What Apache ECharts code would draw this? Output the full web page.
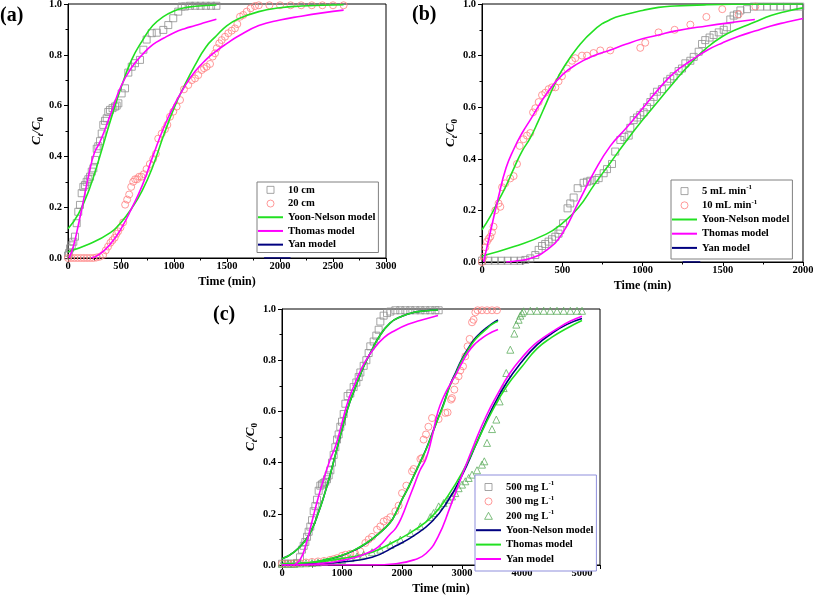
<!DOCTYPE html>
<html><head><meta charset="utf-8">
<script src="https://cdn.jsdelivr.net/npm/echarts@6/dist/echarts.min.js"></script>
<style>html,body{margin:0;padding:0;background:#fff}#c{width:813px;height:598px}</style>
</head><body><div id="c"></div><script>
// ---------- Panel (a) ----------
const a10cm = [[0,0.01],[10,0.02],[19,0.038],[35,0.05],[50,0.064],[66,0.084],[82,0.137],[97,0.182],[113,0.209],[129,0.255],[145,0.28],[160,0.287],[176,0.30],[192,0.31],[208,0.32],[224,0.34],[239,0.353],[255,0.386],[271,0.43],[286,0.44],[302,0.46],[318,0.49],[333,0.524],[349,0.54],[365,0.55],[380,0.575],[396,0.583],[420,0.59],[443,0.596],[459,0.60],[475,0.609],[506,0.648],[538,0.668],[569,0.73],[601,0.753],[632,0.767],[679,0.78],[711,0.82],[742,0.86],[790,0.885],[837,0.887],[899,0.898],[946,0.917],[993,0.944],[1040,0.97],[1072,0.99],[1103,0.99],[1150,0.993],[1200,0.993],[1250,0.993],[1300,0.993],[1350,0.993],[1400,0.993]];
const a20cm = [[0,0],[30,0],[60,0],[90,0],[120,0],[150,0],[180,0],[210,0],[240,0],[268,0.002],[299,0.005],[331,0.012],[356,0.03],[378,0.045],[400,0.06],[420,0.07],[441,0.08],[457,0.095],[473,0.105],[495,0.12],[520,0.14],[539,0.21],[558,0.23],[577,0.25],[596,0.28],[615,0.30],[633,0.31],[652,0.31],[671,0.32],[693,0.32],[715,0.33],[741,0.35],[772,0.37],[804,0.39],[829,0.41],[851,0.47],[884,0.49],[915,0.507],[937,0.524],[962,0.556],[993,0.576],[1025,0.596],[1057,0.622],[1094,0.664],[1135,0.681],[1167,0.70],[1198,0.707],[1229,0.72],[1261,0.74],[1283,0.747],[1308,0.753],[1340,0.764],[1365,0.793],[1387,0.806],[1403,0.826],[1427,0.845],[1450,0.858],[1481,0.871],[1512,0.885],[1544,0.895],[1575,0.904],[1597,0.921],[1623,0.95],[1654,0.957],[1686,0.97],[1723,0.983],[1764,0.992],[1800,0.995],[1900,0.995],[2000,0.995],[2100,0.995],[2200,0.995],[2300,0.995],[2400,0.995],[2500,0.995],[2600,0.995]];
const aYN10 = [[0,0.115],[100,0.175],[200,0.27],[300,0.40],[400,0.54],[500,0.67],[600,0.78],[700,0.855],[800,0.915],[900,0.95],[1000,0.972],[1100,0.985],[1200,0.991],[1300,0.994],[1400,0.996]];
const aYN20 = [[0,0.025],[200,0.055],[400,0.10],[500,0.14],[600,0.195],[700,0.265],[800,0.36],[900,0.48],[1000,0.59],[1100,0.68],[1200,0.76],[1300,0.83],[1400,0.875],[1500,0.915],[1600,0.94],[1800,0.97],[2000,0.985],[2200,0.992],[2400,0.995],[2600,0.997]];
const aTh10 = [[10,0],[50,0.045],[100,0.135],[150,0.235],[200,0.335],[250,0.415],[300,0.455],[400,0.564],[500,0.676],[600,0.75],[700,0.80],[800,0.84],[900,0.865],[1000,0.887],[1100,0.903],[1200,0.915],[1300,0.928],[1400,0.94]];
const aTh20 = [[220,0],[300,0.015],[400,0.055],[500,0.115],[600,0.195],[700,0.285],[800,0.40],[900,0.51],[1000,0.60],[1100,0.675],[1200,0.735],[1300,0.78],[1400,0.815],[1500,0.845],[1600,0.872],[1800,0.915],[2000,0.937],[2200,0.952],[2400,0.965],[2600,0.976]];
const aYan = [[1850,0],[2100,0]];
// ---------- Panel (b) ----------
const b5 = [[0,0.005],[40,0.005],[80,0.005],[120,0.005],[160,0.005],[200,0.005],[240,0.005],[270,0.008],[301,0.014],[332,0.027],[353,0.047],[374,0.062],[394,0.07],[415,0.079],[436,0.088],[457,0.098],[477,0.11],[488,0.124],[505,0.15],[533,0.208],[550,0.227],[571,0.25],[596,0.286],[633,0.307],[654,0.311],[675,0.315],[706,0.318],[727,0.325],[758,0.344],[779,0.36],[810,0.38],[830,0.428],[862,0.473],[887,0.485],[914,0.49],[924,0.52],[945,0.55],[966,0.56],[986,0.57],[1007,0.58],[1028,0.60],[1049,0.62],[1070,0.64],[1090,0.66],[1121,0.67],[1153,0.70],[1173,0.71],[1194,0.72],[1225,0.74],[1246,0.75],[1267,0.77],[1298,0.78],[1319,0.795],[1350,0.815],[1371,0.845],[1391,0.86],[1418,0.87],[1443,0.88],[1475,0.89],[1506,0.90],[1526,0.91],[1547,0.94],[1568,0.955],[1589,0.96],[1610,0.975],[1651,0.98],[1693,0.99],[1734,0.99],[1776,0.99],[1817,0.99],[1859,0.99],[1900,0.99],[1942,0.99],[1983,0.99]];
const b10 = [[0,0],[10,0.02],[21,0.057],[31,0.079],[42,0.09],[52,0.098],[62,0.115],[72,0.137],[83,0.20],[103,0.227],[114,0.214],[125,0.29],[145,0.305],[176,0.324],[197,0.333],[218,0.38],[235,0.45],[259,0.476],[280,0.49],[301,0.50],[318,0.58],[332,0.596],[353,0.62],[374,0.647],[394,0.656],[415,0.67],[436,0.677],[457,0.677],[477,0.70],[498,0.72],[530,0.75],[561,0.78],[581,0.79],[623,0.80],[654,0.80],[695,0.81],[737,0.82],[799,0.82],[986,0.83],[1017,0.85],[1100,0.89],[1200,0.90],[1298,0.92],[1398,0.95],[1497,0.98],[1599,0.96],[1703,0.99]];
const bYN5 = [[0,0.023],[200,0.06],[400,0.108],[500,0.15],[600,0.21],[700,0.30],[800,0.385],[900,0.47],[1000,0.55],[1100,0.625],[1200,0.70],[1300,0.77],[1400,0.83],[1500,0.875],[1600,0.905],[1700,0.93],[1800,0.955],[1900,0.972],[2000,0.985]];
const bYN10 = [[0,0.125],[50,0.175],[100,0.235],[150,0.295],[200,0.365],[250,0.43],[300,0.48],[350,0.545],[400,0.615],[450,0.685],[500,0.745],[600,0.835],[700,0.90],[800,0.94],[900,0.96],[1000,0.975],[1100,0.987],[1200,0.992],[1400,0.997],[1600,0.999],[2000,1.0]];
const bTh5 = [[150,0],[200,0.003],[300,0.014],[400,0.045],[500,0.11],[600,0.23],[700,0.35],[800,0.45],[900,0.52],[1000,0.595],[1100,0.67],[1200,0.735],[1300,0.78],[1400,0.82],[1500,0.85],[1600,0.875],[1700,0.895],[1800,0.915],[1900,0.93],[2000,0.944]];
const bTh10 = [[10,0],[50,0.11],[100,0.245],[150,0.365],[200,0.44],[250,0.50],[300,0.55],[400,0.65],[500,0.725],[600,0.77],[700,0.80],[800,0.822],[900,0.845],[1000,0.865],[1100,0.88],[1200,0.895],[1400,0.915],[1600,0.932],[1700,0.94]];
const bYan = [[1250,0],[1360,0]];
// ---------- Panel (c) ----------
const c500 = [[0,0.005],[50,0.005],[100,0.005],[150,0.005],[200,0.005],[250,0.008],[300,0.03],[333,0.06],[361,0.075],[389,0.09],[417,0.11],[444,0.13],[472,0.15],[500,0.175],[528,0.21],[556,0.23],[583,0.255],[611,0.29],[639,0.31],[667,0.315],[694,0.32],[722,0.325],[750,0.335],[778,0.35],[806,0.37],[833,0.40],[861,0.43],[889,0.46],[917,0.49],[944,0.51],[972,0.54],[1000,0.56],[1028,0.59],[1056,0.63],[1094,0.66],[1139,0.67],[1194,0.695],[1239,0.713],[1278,0.734],[1306,0.752],[1361,0.778],[1406,0.80],[1444,0.828],[1472,0.854],[1528,0.873],[1572,0.896],[1611,0.919],[1639,0.951],[1694,0.974],[1750,0.984],[1806,0.99],[1889,0.995],[1972,0.995],[2056,0.995],[2139,0.995],[2222,0.995],[2306,0.995],[2389,0.995],[2472,0.995],[2556,0.995],[2611,0.995]];
const c300 = [[0,0.005],[100,0.005],[200,0.006],[300,0.008],[400,0.01],[500,0.012],[600,0.014],[700,0.016],[800,0.02],[861,0.023],[917,0.027],[1000,0.036],[1056,0.04],[1139,0.044],[1222,0.044],[1306,0.053],[1389,0.086],[1444,0.10],[1500,0.11],[1583,0.138],[1639,0.151],[1694,0.17],[1750,0.177],[1806,0.187],[1889,0.21],[1944,0.232],[2000,0.281],[2072,0.31],[2167,0.366],[2194,0.375],[2306,0.414],[2333,0.418],[2360,0.49],[2400,0.51],[2440,0.54],[2500,0.574],[2610,0.57],[2722,0.594],[2760,0.596],[2817,0.646],[2833,0.652],[2872,0.685],[2888,0.72],[2943,0.737],[2972,0.76],[3017,0.776],[3055,0.815],[3093,0.854],[3127,0.883],[3167,0.948],[3193,0.958],[3222,0.987],[3260,0.995],[3333,0.995],[3417,0.995],[3500,0.995],[3583,0.995]];
const c200 = [[0,0.005],[100,0.005],[200,0.005],[300,0.006],[400,0.007],[500,0.008],[600,0.01],[700,0.012],[800,0.015],[917,0.018],[1000,0.02],[1139,0.027],[1250,0.033],[1361,0.04],[1500,0.05],[1639,0.06],[1806,0.079],[1972,0.099],[2139,0.125],[2306,0.151],[2472,0.187],[2528,0.203],[2611,0.229],[2694,0.242],[2778,0.255],[2833,0.268],[2888,0.281],[2944,0.30],[3000,0.314],[3055,0.327],[3111,0.34],[3167,0.353],[3250,0.37],[3333,0.392],[3372,0.405],[3417,0.477],[3500,0.531],[3572,0.568],[3627,0.639],[3694,0.691],[3738,0.75],[3805,0.841],[3872,0.904],[3905,0.939],[3944,0.958],[3972,0.974],[4000,0.984],[4027,0.991],[4139,0.993],[4250,0.993],[4361,0.993],[4472,0.993],[4583,0.993],[4694,0.993],[4806,0.993],[4917,0.993],[5000,0.993]];
const cYN500 = [[0,0.024],[200,0.05],[400,0.10],[500,0.14],[600,0.20],[700,0.27],[800,0.35],[900,0.44],[1000,0.53],[1100,0.615],[1200,0.68],[1300,0.74],[1400,0.795],[1500,0.84],[1600,0.885],[1800,0.945],[2000,0.972],[2200,0.987],[2400,0.993],[2600,0.996]];
const cYN300 = [[0,0.003],[400,0.007],[800,0.024],[1000,0.037],[1200,0.057],[1400,0.084],[1600,0.12],[1800,0.165],[1900,0.205],[2000,0.255],[2100,0.30],[2200,0.35],[2300,0.40],[2400,0.452],[2500,0.512],[2600,0.573],[2700,0.634],[2800,0.703],[2900,0.755],[3000,0.805],[3100,0.845],[3200,0.88],[3300,0.905],[3400,0.925],[3500,0.943],[3600,0.957]];
const cYN200 = [[0,0.002],[500,0.005],[1000,0.012],[1500,0.03],[1900,0.075],[2200,0.115],[2500,0.17],[2750,0.245],[3000,0.35],[3250,0.48],[3500,0.61],[3750,0.715],[4000,0.795],[4250,0.86],[4500,0.905],[4750,0.94],[5000,0.963]];
const cTh500 = [[0,0.024],[200,0.05],[400,0.10],[500,0.14],[600,0.20],[700,0.27],[800,0.35],[900,0.44],[1000,0.53],[1100,0.615],[1200,0.68],[1300,0.74],[1400,0.795],[1500,0.84],[1600,0.885],[1800,0.945],[2000,0.972],[2200,0.987],[2400,0.993],[2600,0.996]];
const cTh300 = [[0,0.004],[400,0.008],[800,0.025],[1000,0.038],[1200,0.058],[1400,0.085],[1600,0.12],[1800,0.165],[1900,0.205],[2000,0.255],[2100,0.30],[2200,0.35],[2300,0.40],[2400,0.45],[2500,0.51],[2600,0.57],[2700,0.63],[2800,0.70],[2900,0.75],[3000,0.80],[3100,0.84],[3200,0.875],[3300,0.90],[3400,0.92],[3500,0.94],[3600,0.952]];
const cTh200 = [[0,0.005],[500,0.01],[1000,0.025],[1500,0.05],[1900,0.095],[2200,0.135],[2500,0.19],[2750,0.265],[3000,0.36],[3250,0.48],[3500,0.60],[3750,0.70],[4000,0.775],[4250,0.845],[4500,0.89],[4750,0.925],[5000,0.955]];
const cYan500 = [[200,0],[300,0.02],[400,0.08],[500,0.17],[600,0.26],[700,0.34],[800,0.41],[900,0.47],[1000,0.555],[1100,0.64],[1200,0.70],[1300,0.755],[1400,0.80],[1500,0.835],[1700,0.888],[1900,0.918],[2100,0.94],[2300,0.955],[2600,0.975]];
const cYan300 = [[0,0],[400,0.002],[800,0.01],[1000,0.018],[1200,0.028],[1400,0.045],[1600,0.07],[1800,0.12],[1900,0.145],[2000,0.19],[2100,0.25],[2200,0.31],[2300,0.37],[2400,0.415],[2500,0.50],[2600,0.60],[2700,0.66],[2800,0.705],[2900,0.745],[3000,0.79],[3100,0.83],[3200,0.86],[3300,0.88],[3400,0.897],[3500,0.91],[3600,0.92]];
const cYan200 = [[0,0],[1500,0],[1900,0.005],[2200,0.02],[2400,0.045],[2600,0.11],[2800,0.225],[3000,0.35],[3200,0.47],[3400,0.58],[3600,0.67],[3800,0.75],[4000,0.81],[4200,0.86],[4400,0.895],[4600,0.925],[4800,0.952],[5000,0.972]];

const F = 'Liberation Serif';
const GRAY = '#8f8f8f', PINK = '#ff8080', TRI = '#5fae5f';
const GREEN = '#22e022', MAG = '#ff00ff', NAVY = '#000080';
const ICON_LINE = 'path://M0,0H100V8H0Z';
const ICON_SQ = 'path://M0,0H10V10H0Z';
const ICON_TRI = 'path://M5,0L10,9H0Z';

const chart = echarts.init(document.getElementById('c'));

function xAx(gi, max, interval) {
  return {
    type: 'value', gridIndex: gi, min: 0, max: max, interval: interval,
    name: 'Time (min)', nameLocation: 'middle', nameGap: 18,
    nameTextStyle: {fontFamily: F, fontWeight: 'bold', fontSize: 12, color: '#000'},
    axisLine: {onZero: false, lineStyle: {color: '#000', width: 1}},
    axisTick: {show: true, length: 4, lineStyle: {color: '#000'}},
    minorTick: {show: true, splitNumber: 2, length: 2.5, lineStyle: {color: '#000'}},
    axisLabel: {fontFamily: F, fontWeight: 'bold', fontSize: 10.5, color: '#000', margin: 3,
      formatter: v => (v % interval === 0 ? String(v) : '')},
    splitLine: {show: false}
  };
}
function yAx(gi) {
  return {
    type: 'value', gridIndex: gi, min: 0, max: 1, interval: 0.2,
    name: '{i|C}{st|t}{i|/C}{s0|0}', nameLocation: 'middle', nameGap: 23,
    nameTextStyle: {rich: {
      i: {fontFamily: F, fontStyle: 'italic', fontWeight: 'bold', fontSize: 13, color: '#000', lineHeight: 16},
      st: {fontFamily: F, fontStyle: 'italic', fontWeight: 'bold', fontSize: 9, color: '#000', verticalAlign: 'bottom', lineHeight: 16},
      s0: {fontFamily: F, fontWeight: 'bold', fontSize: 9, color: '#000', verticalAlign: 'bottom', lineHeight: 16}
    }},
    axisLine: {lineStyle: {color: '#000', width: 1}},
    axisTick: {show: true, length: 4, lineStyle: {color: '#000'}},
    minorTick: {show: true, splitNumber: 2, length: 2.5, lineStyle: {color: '#000'}},
    axisLabel: {fontFamily: F, fontWeight: 'bold', fontSize: 10.5, color: '#000', margin: 6,
      formatter: v => v.toFixed(1)},
    splitLine: {show: false}
  };
}
function sc(name, data, gi, sym, color) {
  return {type: 'scatter', name: name, data: data, xAxisIndex: gi, yAxisIndex: gi,
    symbol: sym, symbolSize: 7, silent: true, z: 2,
    itemStyle: {color: 'transparent', borderColor: color, borderWidth: 1}};
}
function ln(name, data, gi, color) {
  return {type: 'line', name: name, data: data, xAxisIndex: gi, yAxisIndex: gi,
    symbol: 'none', showSymbol: false, smooth: 0.5, silent: true, z: 3,
    lineStyle: {color: color, width: 1.6}, itemStyle: {color: color}};
}
function sItem(name, color, icon) {
  return {name: name, icon: icon, itemStyle: {color: 'transparent', borderColor: color, borderWidth: 1}};
}
function lItem(name, color) {
  return {name: name, icon: ICON_LINE, itemStyle: {color: color, borderWidth: 0}};
}
function lg(left, top, lh, pad, border, items) {
  return {
    show: true, orient: 'vertical', left: left, top: top, itemWidth: 25, itemHeight: 7,
    itemGap: 0, padding: pad, borderColor: border, borderWidth: 1, backgroundColor: '#fff',
    selectedMode: false, symbolKeepAspect: true,
    textStyle: {fontFamily: F, fontWeight: 'bold', fontSize: 10.6, color: '#000', lineHeight: lh,
      rich: {
        n: {fontFamily: F, fontWeight: 'bold', fontSize: 10.6, color: '#000', lineHeight: lh},
        sup: {fontFamily: F, fontWeight: 'bold', fontSize: 7, color: '#000', verticalAlign: 'top', lineHeight: 9}
      }},
    formatter: name => name.endsWith('-1') ? '{n|' + name.slice(0, -2) + '}{sup|-1}' : '{n|' + name + '}',
    data: items
  };
}
const titleStyle = {fontFamily: F, fontWeight: 'bold', fontSize: 20, color: '#000'};

const option = {
  animation: false,
  backgroundColor: '#fff',
  title: [
    {text: '(a)', left: 0, top: 6, padding: 0, textStyle: titleStyle},
    {text: '(b)', left: 412, top: 5, padding: 0, textStyle: titleStyle},
    {text: '(c)', left: 213, top: 305, padding: 0, textStyle: titleStyle}
  ],
  grid: [
    {left: 68, top: 4, width: 318, height: 254, show: true, borderColor: '#000', borderWidth: 1, backgroundColor: 'transparent', outerBoundsMode: 'none', containLabel: false},
    {left: 482, top: 4, width: 321, height: 258, show: true, borderColor: '#000', borderWidth: 1, backgroundColor: 'transparent', outerBoundsMode: 'none', containLabel: false},
    {left: 282, top: 309, width: 318, height: 256, show: true, borderColor: '#000', borderWidth: 1, backgroundColor: 'transparent', outerBoundsMode: 'none', containLabel: false}
  ],
  xAxis: [xAx(0, 3000, 500), xAx(1, 2000, 500), xAx(2, 5300, 1000)],
  yAxis: [yAx(0), yAx(1), yAx(2)],
  legend: [
    lg(257, 182, 13.7, [1, 3, 1, 1], '#808080', [sItem('10 cm', GRAY, ICON_SQ), sItem('20 cm', PINK, 'circle'), lItem('Yoon-Nelson model', GREEN), lItem('Thomas model', MAG), lItem('Yan model', NAVY)]),
    lg(671, 180, 14.2, [4, 3, 4, 1], '#808080', [sItem('5 mL min-1', GRAY, ICON_SQ), sItem('10 mL min-1', PINK, 'circle'), lItem('Yoon-Nelson model', GREEN), lItem('Thomas model', MAG), lItem('Yan model', NAVY)]),
    lg(475, 475, 14.4, [4.8, 3, 4.8, 1], '#8f8fdc', [sItem('500 mg L-1', GRAY, ICON_SQ), sItem('300 mg L-1', PINK, 'circle'), sItem('200 mg L-1', TRI, ICON_TRI), lItem('Yoon-Nelson model', NAVY), lItem('Thomas model', GREEN), lItem('Yan model', MAG)])
  ],
  series: [
    sc('10 cm', a10cm, 0, 'rect', GRAY),
    sc('20 cm', a20cm, 0, 'circle', PINK),
    ln('Yoon-Nelson model', aYN10, 0, GREEN),
    ln('Yoon-Nelson model', aYN20, 0, GREEN),
    ln('Thomas model', aTh10, 0, MAG),
    ln('Thomas model', aTh20, 0, MAG),
    ln('Yan model', aYan, 0, NAVY),

    sc('5 mL min-1', b5, 1, 'rect', GRAY),
    sc('10 mL min-1', b10, 1, 'circle', PINK),
    ln('Yoon-Nelson model', bYN5, 1, GREEN),
    ln('Yoon-Nelson model', bYN10, 1, GREEN),
    ln('Thomas model', bTh5, 1, MAG),
    ln('Thomas model', bTh10, 1, MAG),
    ln('Yan model', bYan, 1, NAVY),

    sc('500 mg L-1', c500, 2, 'rect', GRAY),
    sc('300 mg L-1', c300, 2, 'circle', PINK),
    sc('200 mg L-1', c200, 2, 'triangle', TRI),
    ln('Yoon-Nelson model', cYN500, 2, NAVY),
    ln('Thomas model', cTh500, 2, GREEN),
    ln('Yoon-Nelson model', cYN300, 2, NAVY),
    ln('Thomas model', cTh300, 2, GREEN),
    ln('Yoon-Nelson model', cYN200, 2, NAVY),
    ln('Thomas model', cTh200, 2, GREEN),
    ln('Yan model', cYan500, 2, MAG),
    ln('Yan model', cYan300, 2, MAG),
    ln('Yan model', cYan200, 2, MAG)
  ]
};
chart.setOption(option);
</script></body></html>
